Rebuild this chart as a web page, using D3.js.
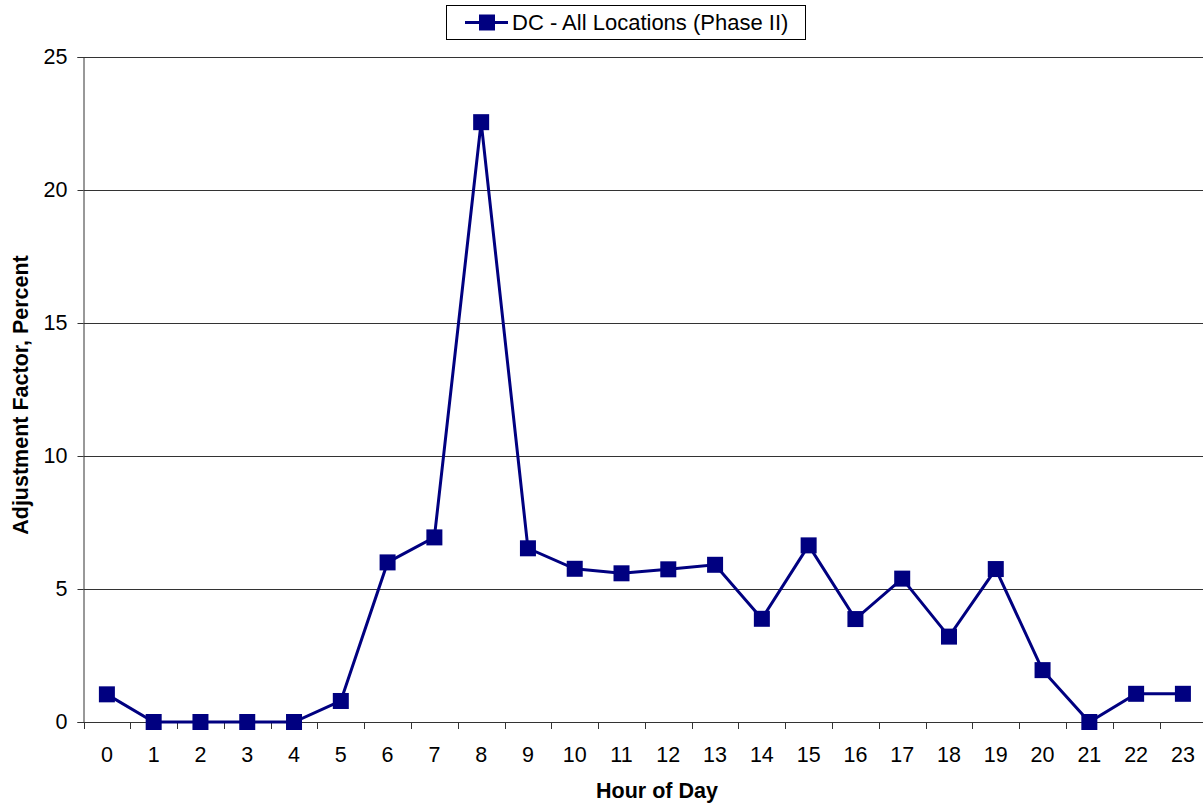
<!DOCTYPE html>
<html>
<head>
<meta charset="utf-8">
<script src="https://cdn.jsdelivr.net/npm/d3@7"></script>
<style>
  html, body { margin: 0; padding: 0; background: #fff; }
  svg { display: block; font-family: "Liberation Sans", Arial, sans-serif; }
</style>
</head>
<body>
<svg id="chart" width="1203" height="805"></svg>
<script>
// Hourly adjustment factors (percent), DC - All Locations (Phase II)
const hours = d3.range(0, 24).map(String);
const factors = [1.04, 0, 0, 0, 0, 0.79, 6.0, 6.94, 22.55, 6.53, 5.76, 5.59,
                 5.74, 5.91, 3.88, 6.64, 3.87, 5.39, 3.21, 5.75, 1.95, 0, 1.06, 1.06];
const yTicks = [0, 5, 10, 15, 20, 25];
const seriesName = "DC - All Locations (Phase II)";

const svg = d3.select("#chart");
const plotL = 83.5, plotR = 1206.3, plotT = 57, plotB = 722;
const navy = "#000080";

const x = d3.scaleBand().domain(hours).range([plotL, plotR]);
const y = d3.scaleLinear().domain([0, 25]).range([plotB, plotT]);

// horizontal gridlines
svg.append("g")
  .selectAll("line")
  .data(yTicks.filter(d => d > 0))
  .join("line")
  .attr("x1", plotL).attr("x2", plotR)
  .attr("y1", d => Math.round(y(d)) + 0.5).attr("y2", d => Math.round(y(d)) + 0.5)
  .attr("stroke", "#333").attr("stroke-width", 1);

// y axis
const yAxis = svg.append("g")
  .attr("transform", `translate(${plotL},0)`)
  .call(d3.axisLeft(y).tickValues(yTicks).tickSize(6).tickPadding(10));
yAxis.select(".domain").attr("stroke", "#333");
yAxis.selectAll(".tick line").attr("stroke", "#333");
yAxis.selectAll("text").attr("font-size", 21.5).attr("fill", "#000")
  .style("font-family", "Liberation Sans, Arial, sans-serif");

// x axis: ticks at band boundaries, labels at band centres
const xg = svg.append("g").attr("transform", `translate(0,${plotB})`);
xg.append("line").attr("x1", plotL).attr("x2", plotR).attr("y1", 0.5).attr("y2", 0.5)
  .attr("stroke", "#333");
xg.selectAll("line.tk")
  .data(hours)
  .join("line").attr("class", "tk")
  .attr("x1", d => Math.round(x(d)) + 0.5).attr("x2", d => Math.round(x(d)) + 0.5)
  .attr("y1", 0).attr("y2", 7)
  .attr("stroke", "#333");
xg.selectAll("text")
  .data(hours)
  .join("text")
  .attr("x", d => x(d) + x.bandwidth() / 2)
  .attr("y", 40)
  .attr("text-anchor", "middle")
  .attr("font-size", 21.5)
  .text(d => d);

// axis titles
svg.append("text")
  .attr("x", 657).attr("y", 798)
  .attr("text-anchor", "middle").attr("font-size", 21.5).attr("font-weight", "bold")
  .text("Hour of Day");
svg.append("text")
  .attr("transform", `translate(28,395) rotate(-90)`)
  .attr("text-anchor", "middle").attr("font-size", 21.5).attr("font-weight", "bold")
  .text("Adjustment Factor, Percent");

// series line
const pts = hours.map((h, i) => [x(h) + x.bandwidth() / 2, y(factors[i])]);
svg.append("path")
  .attr("d", d3.line()(pts))
  .attr("fill", "none").attr("stroke", navy).attr("stroke-width", 3)
  .attr("stroke-linejoin", "miter");

// square markers
const ms = 16;
svg.append("g")
  .selectAll("rect")
  .data(pts)
  .join("rect")
  .attr("x", d => d[0] - ms / 2).attr("y", d => d[1] - ms / 2)
  .attr("width", ms).attr("height", ms)
  .attr("fill", navy);

// legend
const lg = svg.append("g");
lg.append("rect").attr("x", 446.5).attr("y", 5.5).attr("width", 359).attr("height", 34)
  .attr("fill", "#fff").attr("stroke", "#000").attr("stroke-width", 1);
lg.append("line").attr("x1", 465).attr("x2", 508).attr("y1", 22.5).attr("y2", 22.5)
  .attr("stroke", navy).attr("stroke-width", 3);
lg.append("rect").attr("x", 479).attr("y", 14.5).attr("width", ms).attr("height", ms)
  .attr("fill", navy);
lg.append("text").attr("x", 512).attr("y", 30).attr("font-size", 22)
  .text(seriesName);
</script>
</body>
</html>
